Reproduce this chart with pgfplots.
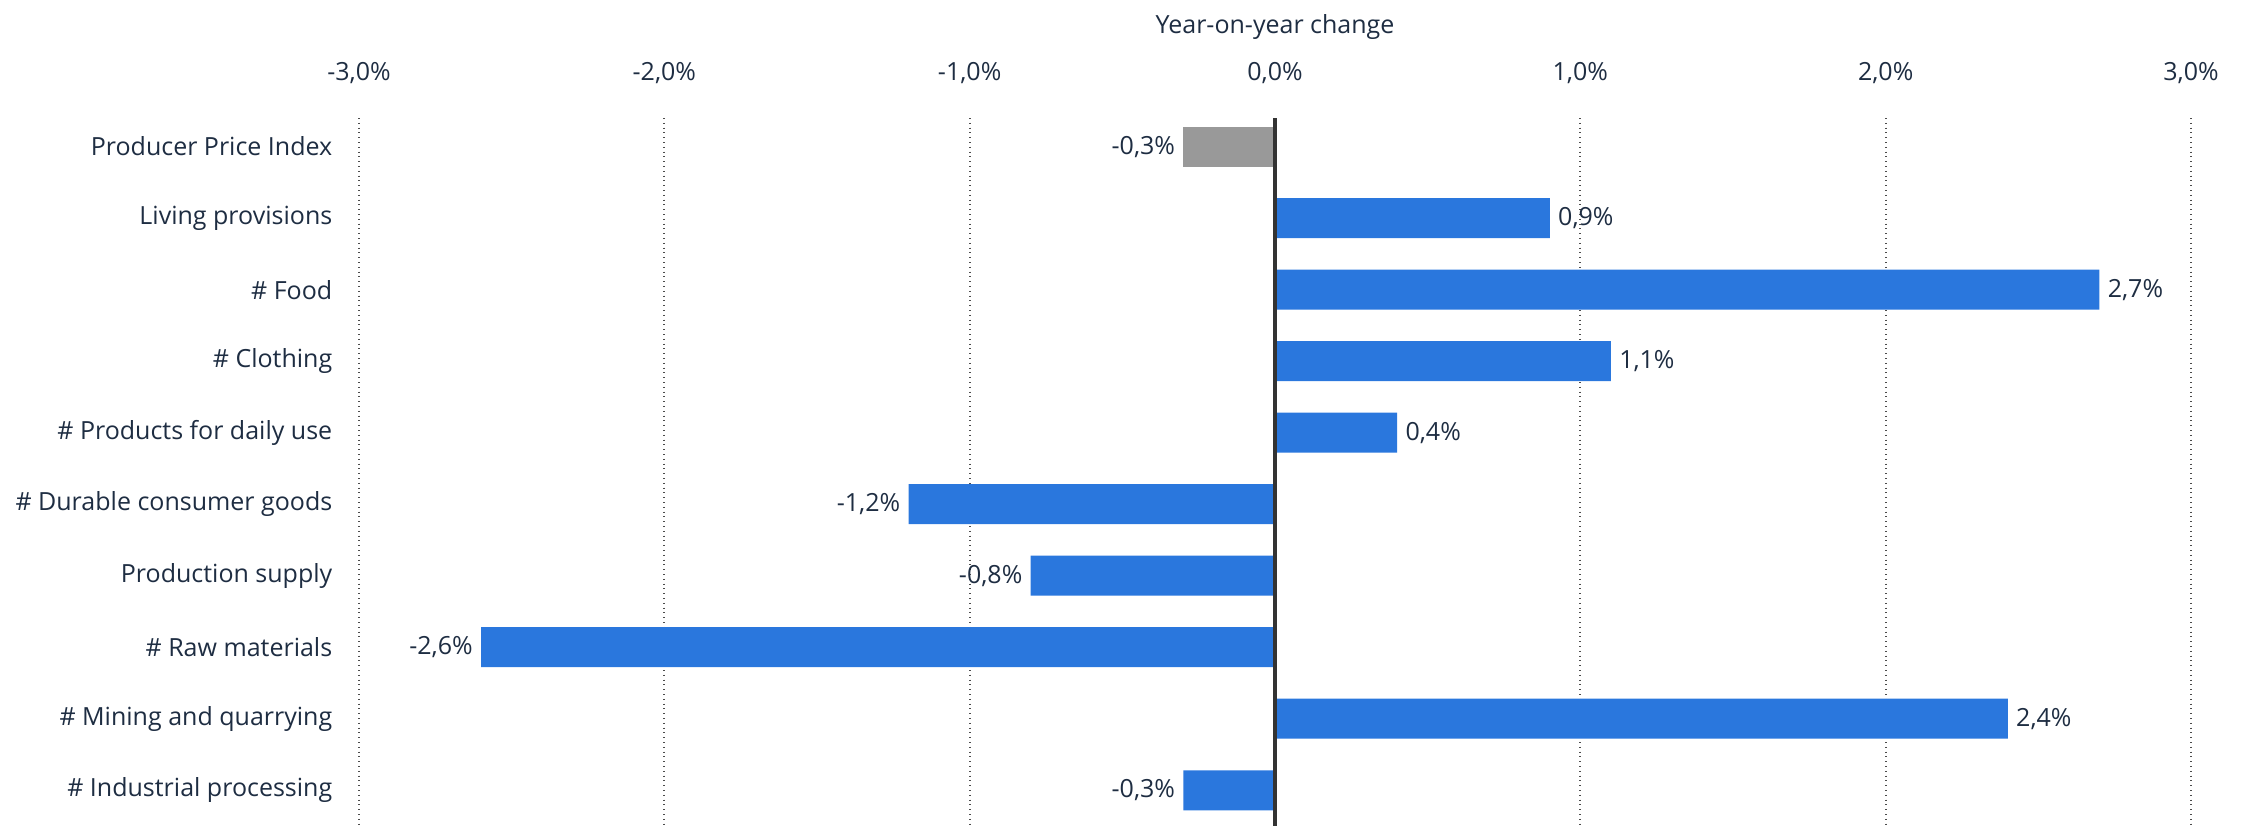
\documentclass[border=0pt]{standalone}
\usepackage{fontspec}
\setmainfont{Open Sans}
\usepackage{pgfplots}
\pgfplotsset{compat=1.18}
\definecolor{barblue}{RGB}{42,119,221}
\definecolor{bargrey}{RGB}{153,153,153}
\definecolor{txt}{RGB}{30,45,66}
\definecolor{zeroline}{RGB}{51,51,51}
\begin{document}
\fontsize{12.5pt}{15pt}\selectfont
\begin{tikzpicture}
\useasboundingbox (-179.5pt,0) rectangle (946.5pt,413pt);
\begin{axis}[
  at={(0,0)}, anchor=south west,
  scale only axis, width=916pt, height=354pt,
  xmin=-3, xmax=3, ymin=-0.4, ymax=9.5,
  y dir=reverse,
  xbar, bar width=20pt, bar shift=0pt,
  axis line style={draw=none},
  major tick length=0pt,
  xtick={-3,-2,-1,0,1,2,3},
  xticklabels={{-3,0\%},{-2,0\%},{-1,0\%},{0,0\%},{1,0\%},{2,0\%},{3,0\%}},
  xticklabel pos=top,
  xticklabel style={yshift=13pt},
  xlabel={Year-on-year change},
  xlabel style={yshift=2.5pt, text=txt},
  ytick={0,...,9},
  yticklabels={Producer Price Index, Living provisions, \# Food, \# Clothing, \# Products for daily use, \# Durable consumer goods, Production supply, \# Raw materials, \# Mining and quarrying, \# Industrial processing},
  yticklabel style={xshift=-9pt},
  xmajorgrids, grid style={dotted, line width=1pt, color=black!70},
  ticklabel style={text=txt},
  nodes near coords, point meta=explicit symbolic,
  every node near coord/.append style={text=txt, inner sep=4pt},
  clip=false,
]
\addplot[fill=bargrey, draw=none, every node near coord/.append style={anchor=east}] coordinates {(-0.3,0) [-0,3\%]};
\addplot[fill=barblue, draw=none, every node near coord/.append style={anchor=west}] coordinates {
  (0.9,1) [0,9\%]
  (2.7,2) [2,7\%]
  (1.1,3) [1,1\%]
  (0.4,4) [0,4\%]
  (2.4,8) [2,4\%]
};
\addplot[fill=barblue, draw=none, every node near coord/.append style={anchor=east}] coordinates {
  (-1.2,5) [-1,2\%]
  (-0.8,6) [-0,8\%]
  (-2.6,7) [-2,6\%]
  (-0.3,9) [-0,3\%]
};
\draw[line width=2.2pt, zeroline] (axis cs:0,-0.4) -- (axis cs:0,9.5);
\end{axis}
\end{tikzpicture}
\end{document}
